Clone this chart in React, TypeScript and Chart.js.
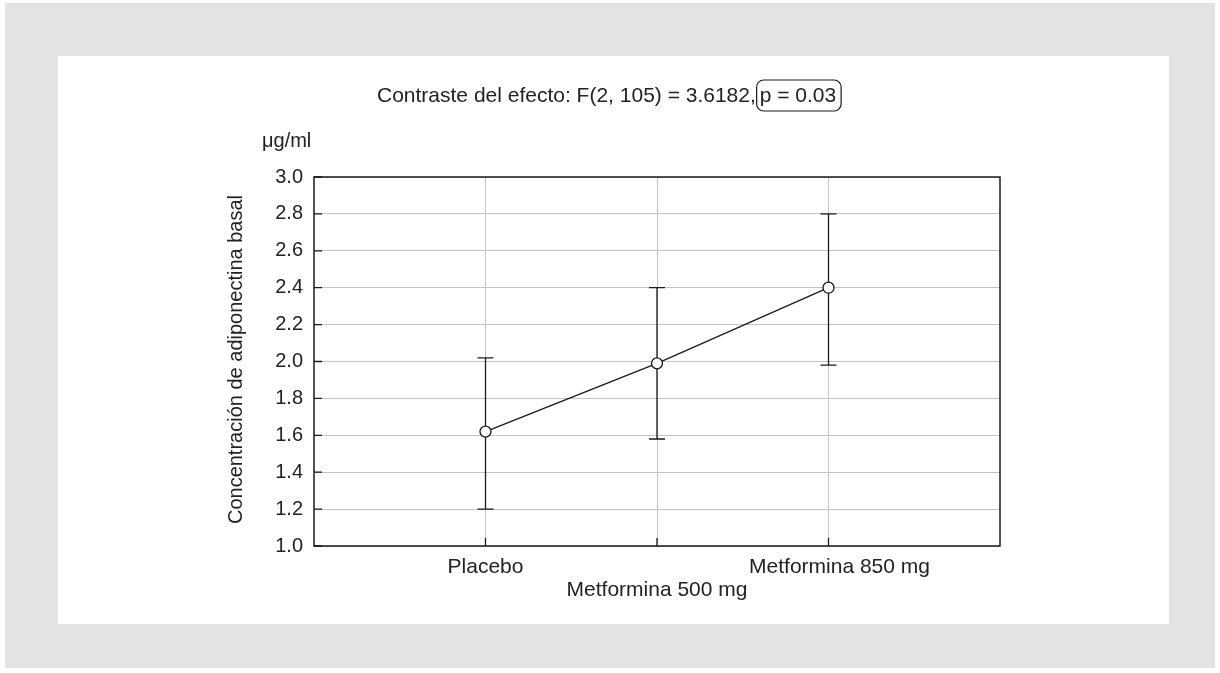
import React, { useEffect, useRef } from 'react';
import { Chart, registerables } from 'chart.js';
Chart.register(...registerables);

const categories = ['Placebo', 'Metformina 500 mg', 'Metformina 850 mg'];
const means = [1.62, 1.99, 2.40];
const lower = [1.20, 1.58, 1.98];
const upper = [2.02, 2.40, 2.80];
const yTicks = [1.0, 1.2, 1.4, 1.6, 1.8, 2.0, 2.2, 2.4, 2.6, 2.8, 3.0];
const titleMain = 'Contraste del efecto: F(2, 105) = 3.6182,';
const titleP = 'p = 0.03';
const yTitle = 'Concentración de adiponectina basal';
const yUnit = 'μg/ml';

const FONT = "'Liberation Sans', Arial, sans-serif";
const TEXT = '#222';
const INK = '#1a1a1a';

export default function App() {
  const ref = useRef<HTMLCanvasElement | null>(null);
  useEffect(() => {
    if (!ref.current) return;
    const deco = {
      id: 'deco',
      beforeDatasetsDraw(chart: any) {
        const ctx = chart.ctx;
        const xs = chart.scales.x;
        const ys = chart.scales.y;
        ctx.save();
        ctx.strokeStyle = INK;
        ctx.lineWidth = 1.3;
        categories.forEach((_, i) => {
          const x = xs.getPixelForValue(i + 1);
          const y1 = ys.getPixelForValue(lower[i]);
          const y2 = ys.getPixelForValue(upper[i]);
          ctx.beginPath();
          ctx.moveTo(x, y1);
          ctx.lineTo(x, y2);
          ctx.moveTo(x - 8, y1);
          ctx.lineTo(x + 8, y1);
          ctx.moveTo(x - 8, y2);
          ctx.lineTo(x + 8, y2);
          ctx.stroke();
        });
        ctx.restore();
      },
      afterDraw(chart: any) {
        const ctx = chart.ctx;
        const a = chart.chartArea;
        const xs = chart.scales.x;
        const ys = chart.scales.y;
        ctx.save();
        // frame
        ctx.strokeStyle = INK;
        ctx.lineWidth = 1.5;
        ctx.strokeRect(a.left, a.top, a.right - a.left, a.bottom - a.top);
        // inward ticks
        ctx.lineWidth = 1.3;
        ctx.beginPath();
        yTicks.forEach((v) => {
          const y = ys.getPixelForValue(v);
          ctx.moveTo(a.left, y);
          ctx.lineTo(a.left + 8, y);
        });
        categories.forEach((_, i) => {
          const x = xs.getPixelForValue(i + 1);
          ctx.moveTo(x, a.bottom);
          ctx.lineTo(x, a.bottom - 8);
        });
        ctx.stroke();
        // x labels (staggered)
        ctx.fillStyle = TEXT;
        ctx.font = `21px ${FONT}`;
        ctx.textAlign = 'center';
        ctx.textBaseline = 'middle';
        const rowY = [a.bottom + 21, a.bottom + 44, a.bottom + 21];
        const dx = [0, 0, 11];
        categories.forEach((c, i) => {
          ctx.fillText(c, xs.getPixelForValue(i + 1) + dx[i], rowY[i]);
        });
        // title
        ctx.textAlign = 'left';
        const tx = 319;
        const ty = 40;
        ctx.fillText(titleMain, tx, ty);
        const w1 = ctx.measureText(titleMain + ' ').width;
        const px = tx + w1 - 2;
        const pw = ctx.measureText(titleP).width;
        ctx.fillText(titleP, px, ty);
        ctx.lineWidth = 1.2;
        ctx.beginPath();
        if ((ctx as any).roundRect) {
          (ctx as any).roundRect(px - 3, ty - 16, pw + 8, 31, 7);
        } else {
          ctx.rect(px - 3, ty - 16, pw + 8, 31);
        }
        ctx.stroke();
        // unit
        ctx.font = `20px ${FONT}`;
        ctx.fillText(yUnit, 204, 85);
        // y title
        ctx.translate(178, (a.top + a.bottom) / 2 - 2);
        ctx.rotate(-Math.PI / 2);
        ctx.textAlign = 'center';
        ctx.fillText(yTitle, 0, 0);
        ctx.restore();
      },
    };
    const chart = new Chart(ref.current, {
      type: 'scatter',
      data: {
        datasets: [
          {
            data: categories.map((_, i) => ({ x: i + 1, y: means[i] })),
            showLine: true,
            borderColor: INK,
            borderWidth: 1.3,
            pointRadius: 5.5,
            pointBackgroundColor: '#fff',
            pointBorderColor: INK,
            pointBorderWidth: 1.3,
          },
        ],
      },
      options: {
        animation: false,
        responsive: false,
        events: [],
        layout: { padding: { top: 121, right: 169, left: 0, bottom: 0 } },
        plugins: { legend: { display: false }, tooltip: { enabled: false }, title: { display: false } },
        scales: {
          x: {
            type: 'linear',
            min: 0,
            max: 4,
            afterBuildTicks: (s: any) => {
              s.ticks = categories.map((_, i) => ({ value: i + 1 }));
            },
            afterFit: (s: any) => {
              s.height = 78;
            },
            ticks: { display: false },
            grid: { color: '#c4c4c4', lineWidth: 1, drawTicks: false },
            border: { display: false },
          },
          y: {
            type: 'linear',
            min: 1,
            max: 3,
            afterBuildTicks: (s: any) => {
              s.ticks = yTicks.map((v) => ({ value: v }));
            },
            afterFit: (s: any) => {
              s.width = 256;
            },
            ticks: {
              callback: (v: any) => Number(v).toFixed(1),
              font: { family: FONT, size: 20 },
              color: TEXT,
              padding: 11,
            },
            grid: { color: '#c4c4c4', lineWidth: 1, drawTicks: false },
            border: { display: false },
          },
        },
      },
      plugins: [deco],
    });
    return () => chart.destroy();
  }, []);
  return (
    <div style={{ position: 'absolute', left: 0, top: 0, width: 1220, height: 673, background: '#fff' }}>
      <div style={{ position: 'absolute', left: 5, top: 3, width: 1210, height: 665, background: '#e3e3e1' }} />
      <div style={{ position: 'absolute', left: 58, top: 56, width: 1111, height: 568, background: '#fff' }}>
        <canvas ref={ref} width={1111} height={568} style={{ display: 'block', width: 1111, height: 568 }} />
      </div>
    </div>
  );
}
